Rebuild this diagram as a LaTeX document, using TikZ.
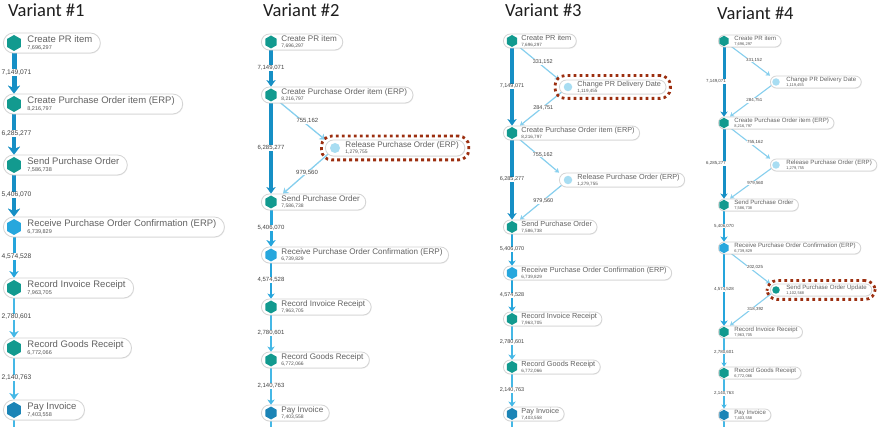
\documentclass[tikz,border=0pt]{standalone}
\usepackage{fontspec}
\setmainfont{Liberation Sans}
\newfontfamily\titlefont{Carlito}
\usetikzlibrary{shapes.geometric,arrows.meta,calc,fit,shadows}
\pgfdeclarelayer{back}
\pgfdeclarelayer{bg}
\pgfsetlayers{back,bg,main}
\definecolor{teal1}{HTML}{129A8F}
\definecolor{blue1}{HTML}{27A7DD}
\definecolor{blue2}{HTML}{1B84B6}
\definecolor{lblue}{HTML}{A8DDF2}
\definecolor{edk}{HTML}{168FC5}
\definecolor{emd}{HTML}{25A5DC}
\definecolor{elt}{HTML}{45B8E6}
\definecolor{ediag}{HTML}{86CFEE}
\definecolor{hlred}{HTML}{9C2F10}
\definecolor{pillb}{HTML}{D4D4D4}
\definecolor{txt}{HTML}{626262}
\definecolor{cntc}{HTML}{555555}
\definecolor{labc}{HTML}{444444}
\definecolor{ttlc}{HTML}{1E1E1E}
\tikzset{
  pill/.style={draw=pillb, line width=0.8pt, fill=white, rounded corners=\pC,
    inner sep=0pt, minimum height=\pH, text=txt,
    drop shadow={shadow xshift=0.5pt, shadow yshift=-0.8pt, opacity=0.12}},
  hex/.style={regular polygon, regular polygon sides=6, shape border rotate=30,
    fill=#1, draw=none, inner sep=0pt, minimum size=\iS},
  dot/.style={circle, fill=#1, draw=none, inner sep=0pt, minimum size=\cS},
  lab/.style={fill=white, inner sep=0.5pt, text=labc, font=\fE},
  ttl/.style={anchor=base west, font=\titlefont\fontsize{18.5}{20}\selectfont,
    text=ttlc, inner sep=0pt},
  hl/.style={draw=hlred, line width=2.8pt, dash pattern=on 2.8pt off 3.2pt,
    rounded corners=10pt, inner sep=3.5pt},
  tipL/.style={-{Stealth[length=8pt, width=12pt, inset=2.5pt, line width=0.01pt]}},
  tipM/.style={-{Stealth[length=6.5pt, width=9pt, inset=2pt, line width=0.01pt]}},
  tipS/.style={-{Stealth[length=5pt, width=7pt, inset=1.5pt, line width=0.01pt]}},
  tipXS/.style={-{Stealth[length=4pt, width=5pt, inset=1.2pt, line width=0.01pt]}},
  dg/.style={line width=#1, ediag},
}
% #1 name, #2 icon style, #3 icon x, #4 y, #5 label, #6 count
\newcommand\act[6]{%
  \node[pill, anchor=west] (#1) at ($(#3,#4)+(\pL,0)$)
    {\hspace*{\pT}\shortstack[l]{\fL\vphantom{(}#5\\[\pG]{\color{cntc}\fC #6}}\hspace*{\pR}};
  \node[#2] (#1i) at (#3,#4) {};
}
\begin{document}
\begin{tikzpicture}[x=1pt, y=-1pt]
\useasboundingbox (0,0) rectangle (880,427);
\begin{pgfonlayer}{back}
\fill[white] (0,0) rectangle (880,427);
\end{pgfonlayer}

% ================= Variant 1 =================
\def\pL{-11}\def\pT{24pt}\def\pR{8pt}\def\pH{20pt}\def\pC{10pt}\def\iS{16pt}\def\cS{11pt}\def\pG{-2pt}
\def\fL{\fontsize{9.5}{11}\selectfont}\def\fC{\fontsize{5.5}{6}\selectfont}\def\fE{\fontsize{6.7}{7}\selectfont}
\node[ttl] (t1) at (8,17) {Variant \#1};
\act{v1a}{hex=teal1}{14}{43}{Create PR item}{7,696,297}
\act{v1b}{hex=teal1}{14}{104}{Create Purchase Order item (ERP)}{8,216,797}
\act{v1c}{hex=teal1}{14}{165}{Send Purchase Order}{7,586,738}
\act{v1d}{hex=blue1}{14}{227}{Receive Purchase Order Confirmation (ERP)}{6,739,829}
\act{v1e}{hex=teal1}{14}{288}{Record Invoice Receipt}{7,963,705}
\act{v1f}{hex=teal1}{14}{348}{Record Goods Receipt}{6,772,066}
\act{v1g}{hex=blue2}{14}{410}{Pay Invoice}{7,403,558}
\coordinate (v1z) at (14,427);
\begin{pgfonlayer}{bg}
\draw[line width=5pt, edk, tipL] (v1ai.south) -- node[lab, xshift=2.5pt]{7,149,071} (v1bi |- v1b.north);
\draw[line width=4.5pt, edk, tipL] (v1bi.south) -- node[lab, xshift=2.5pt]{6,285,277} (v1ci |- v1c.north);
\draw[line width=4pt, edk, tipL] (v1ci.south) -- node[lab, xshift=2.5pt]{5,406,070} (v1di |- v1d.north);
\draw[line width=3pt, emd, tipM] (v1di.south) -- node[lab, xshift=2.5pt]{4,574,528} (v1ei |- v1e.north);
\draw[line width=2.3pt, elt, tipM] (v1ei.south) -- node[lab, xshift=2.5pt]{2,780,601} (v1fi |- v1f.north);
\draw[line width=2pt, elt, tipM] (v1fi.south) -- node[lab, xshift=2.5pt]{2,140,763} (v1gi |- v1g.north);
\draw[line width=2pt, elt] (v1gi.south) -- (v1z);
\end{pgfonlayer}

% ================= Variant 2 =================
\def\pL{-10}\def\pT{20pt}\def\pR{6pt}\def\pH{16pt}\def\pC{8pt}\def\iS{13pt}\def\cS{10pt}\def\pG{-2.3pt}
\def\fL{\fontsize{8.1}{9}\selectfont}\def\fC{\fontsize{5}{5.5}\selectfont}\def\fE{\fontsize{6}{6.5}\selectfont}
\node[ttl] (t2) at (263,17) {Variant \#2};
\act{v2a}{hex=teal1}{271}{42}{Create PR item}{7,696,297}
\act{v2b}{hex=teal1}{271}{95}{Create Purchase Order item (ERP)}{8,216,797}
\act{v2r}{dot=lblue}{335}{148}{Release Purchase Order (ERP)}{1,279,755}
\act{v2c}{hex=teal1}{271}{202}{Send Purchase Order}{7,586,738}
\act{v2d}{hex=blue1}{271}{255}{Receive Purchase Order Confirmation (ERP)}{6,739,829}
\act{v2e}{hex=teal1}{271}{307}{Record Invoice Receipt}{7,963,705}
\act{v2f}{hex=teal1}{271}{360}{Record Goods Receipt}{6,772,066}
\act{v2g}{hex=blue2}{271}{413}{Pay Invoice}{7,403,558}
\node[hl, fit=(v2r)] (h2) {};
\coordinate (v2z) at (271,427);
\begin{pgfonlayer}{bg}
\draw[line width=4pt, edk, tipM] (v2ai.south) -- node[lab]{7,149,071} (v2bi |- v2b.north);
\draw[line width=3.5pt, edk, tipM] (v2bi.south) -- node[lab]{6,285,277} (v2ci |- v2c.north);
\draw[dg=1.3pt, tipS] (v2bi) -- node[lab, xshift=7pt, yshift=-2pt]{755,162} (v2r.north west);
\draw[dg=1.3pt, tipS] (v2ri) -- node[lab]{979,560} ($(v2ci |- v2c.north)+(12,0)$);
\draw[line width=3pt, emd, tipM] (v2ci.south) -- node[lab]{5,406,070} (v2di |- v2d.north);
\draw[line width=2.5pt, emd, tipS] (v2di.south) -- node[lab]{4,574,528} (v2ei |- v2e.north);
\draw[line width=2pt, elt, tipS] (v2ei.south) -- node[lab]{2,780,601} (v2fi |- v2f.north);
\draw[line width=1.8pt, elt, tipS] (v2fi.south) -- node[lab]{2,140,763} (v2gi |- v2g.north);
\draw[line width=1.8pt, elt] (v2gi.south) -- (v2z);
\end{pgfonlayer}

% ================= Variant 3 =================
\def\pL{-9}\def\pT{18pt}\def\pR{5pt}\def\pH{14pt}\def\pC{7pt}\def\iS{12pt}\def\cS{8.5pt}\def\pG{-2.4pt}
\def\fL{\fontsize{7.3}{8}\selectfont}\def\fC{\fontsize{4.6}{5}\selectfont}\def\fE{\fontsize{5.5}{6}\selectfont}
\node[ttl] (t3) at (505,17) {Variant \#3};
\act{v3a}{hex=teal1}{512}{41}{Create PR item}{7,696,297}
\act{v3p}{dot=lblue}{568}{87}{Change PR Delivery Date}{1,119,455}
\act{v3b}{hex=teal1}{512}{133}{Create Purchase Order item (ERP)}{8,216,797}
\act{v3r}{dot=lblue}{568}{180}{Release Purchase Order (ERP)}{1,279,755}
\act{v3c}{hex=teal1}{512}{227}{Send Purchase Order}{7,586,738}
\act{v3d}{hex=blue1}{512}{273}{Receive Purchase Order Confirmation (ERP)}{6,739,829}
\act{v3e}{hex=teal1}{512}{319}{Record Invoice Receipt}{7,963,705}
\act{v3f}{hex=teal1}{512}{367}{Record Goods Receipt}{6,772,066}
\act{v3g}{hex=blue2}{512}{414}{Pay Invoice}{7,403,558}
\node[hl, fit=(v3p), inner sep=4pt] (h3) {};
\coordinate (v3z) at (512,427);
\begin{pgfonlayer}{bg}
\draw[line width=3.5pt, edk, tipM] (v3ai.south) -- node[lab]{7,149,071} (v3bi |- v3b.north);
\draw[dg=1.2pt, tipXS] (v3ai) -- node[lab, xshift=5pt]{331,152} (v3p.north west);
\draw[dg=1.2pt, tipXS] (v3pi) -- node[lab, xshift=1pt]{284,751} ($(v3bi |- v3b.north)+(8,0)$);
\draw[line width=3.2pt, edk, tipM] (v3bi.south) -- node[lab]{6,285,277} (v3ci |- v3c.north);
\draw[dg=1.2pt, tipXS] (v3bi) -- node[lab, xshift=5pt]{755,162} (v3r.north west);
\draw[dg=1.2pt, tipXS] (v3ri) -- node[lab, xshift=1pt]{979,560} ($(v3ci |- v3c.north)+(8,0)$);
\draw[line width=2.8pt, emd, tipS] (v3ci.south) -- node[lab]{5,406,070} (v3di |- v3d.north);
\draw[line width=2.3pt, emd, tipS] (v3di.south) -- node[lab]{4,574,528} (v3ei |- v3e.north);
\draw[line width=1.8pt, elt, tipS] (v3ei.south) -- node[lab]{2,780,601} (v3fi |- v3f.north);
\draw[line width=1.6pt, elt, tipS] (v3fi.south) -- node[lab]{2,140,763} (v3gi |- v3g.north);
\draw[line width=1.6pt, elt] (v3gi.south) -- (v3z);
\end{pgfonlayer}

% ================= Variant 4 =================
\def\pL{-6}\def\pT{16pt}\def\pR{5pt}\def\pH{12pt}\def\pC{6pt}\def\iS{10.5pt}\def\cS{7.5pt}\def\pG{-2.5pt}
\def\fL{\fontsize{6.1}{7}\selectfont}\def\fC{\fontsize{4}{4.5}\selectfont}\def\fE{\fontsize{4.4}{5}\selectfont}
\node[ttl] (t4) at (717,20) {Variant \#4};
\act{v4a}{hex=teal1}{724}{41}{Create PR item}{7,696,297}
\act{v4p}{dot=lblue}{776}{82}{Change PR Delivery Date}{1,119,455}
\act{v4b}{hex=teal1}{724}{123}{Create Purchase Order item (ERP)}{8,216,797}
\act{v4r}{dot=lblue}{776}{165}{Release Purchase Order (ERP)}{1,279,755}
\act{v4c}{hex=teal1}{724}{205}{Send Purchase Order}{7,586,738}
\act{v4d}{hex=blue1}{724}{248}{Receive Purchase Order Confirmation (ERP)}{6,739,829}
\act{v4u}{dot=teal1}{776}{290}{Send Purchase Order Update}{1,102,568}
\act{v4e}{hex=teal1}{724}{332}{Record Invoice Receipt}{7,963,705}
\act{v4f}{hex=teal1}{724}{373}{Record Goods Receipt}{6,772,066}
\act{v4g}{hex=blue2}{724}{415}{Pay Invoice}{7,403,558}
\node[hl, fit=(v4u), inner sep=3pt] (h4) {};
\coordinate (v4z) at (724,427);
\begin{pgfonlayer}{bg}
\draw[line width=3pt, edk, tipS] (v4ai.south) -- node[lab, xshift=-8pt]{7,149,071} (v4bi |- v4b.north);
\draw[dg=1.1pt, tipXS] (v4ai) -- node[lab, xshift=5pt]{331,152} (v4p.north west);
\draw[dg=1.1pt, tipXS] (v4pi) -- node[lab, xshift=3pt]{284,751} ($(v4bi |- v4b.north)+(6,0)$);
\draw[line width=3pt, edk, tipS] (v4bi.south) -- node[lab, xshift=-8pt]{6,285,277} (v4ci |- v4c.north);
\draw[dg=1.1pt, tipXS] (v4bi) -- node[lab, xshift=6pt]{755,162} (v4r.north west);
\draw[dg=1.1pt, tipXS] (v4ri) -- node[lab, xshift=4pt]{979,560} ($(v4ci |- v4c.north)+(6,0)$);
\draw[line width=2.5pt, emd, tipS] (v4ci.south) -- node[lab]{5,406,070} (v4di |- v4d.north);
\draw[line width=2.5pt, emd, tipS] (v4di.south) -- node[lab]{4,574,528} (v4ei |- v4e.north);
\draw[dg=1.1pt, tipXS] (v4di) -- node[lab, xshift=6pt]{202,025} (v4u.north west);
\draw[dg=1.1pt, tipXS] (v4ui) -- node[lab, xshift=4pt]{318,392} ($(v4ei |- v4e.north)+(6,0)$);
\draw[line width=1.6pt, elt, tipXS] (v4ei.south) -- node[lab]{2,780,601} (v4fi |- v4f.north);
\draw[line width=1.4pt, elt, tipXS] (v4fi.south) -- node[lab]{2,140,763} (v4gi |- v4g.north);
\draw[line width=1.4pt, elt] (v4gi.south) -- (v4z);
\end{pgfonlayer}
\end{tikzpicture}
\end{document}
